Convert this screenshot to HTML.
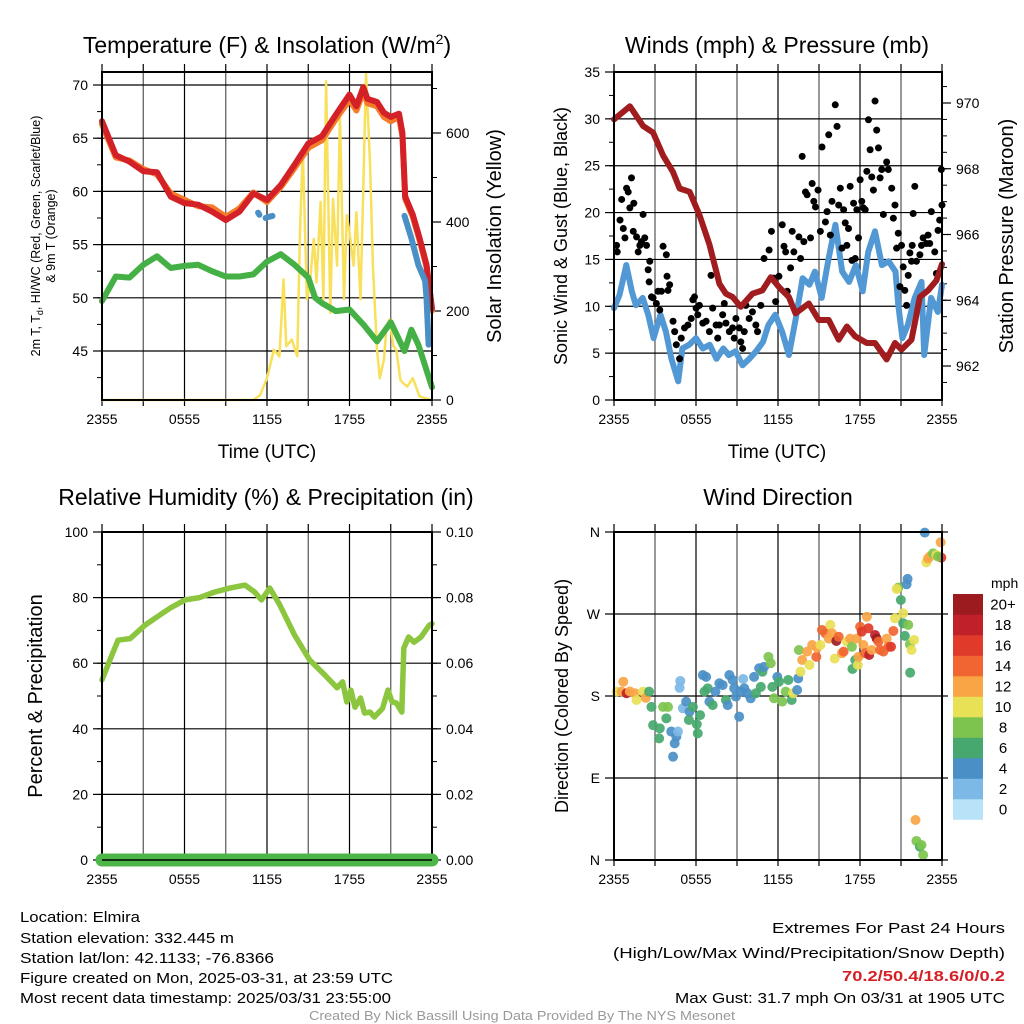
<!DOCTYPE html>
<html><head><meta charset="utf-8"><title>Elmira Mesonet Meteogram</title>
<style>
html,body{margin:0;padding:0;background:#fff;}
svg{display:block;font-family:"Liberation Sans",Arial,sans-serif;}
</style></head>
<body>
<svg id="fig" width="1024" height="1024" viewBox="0 0 1024 1024" xmlns="http://www.w3.org/2000/svg">
<rect x="0" y="0" width="1024" height="1024" fill="#fff"/>
<g id="p1"></g>
<g id="p2"></g>
<g id="p3"></g>
<g id="p4"></g>
<g font-size="23" fill="#000" text-anchor="middle">
<text x="267" y="53">Temperature (F) &amp; Insolation (W/m<tspan dy="-9" font-size="14">2</tspan><tspan dy="9">)</tspan></text>
<text x="777" y="53">Winds (mph) &amp; Pressure (mb)</text>
<text x="266" y="505">Relative Humidity (%) &amp; Precipitation (in)</text>
<text x="778" y="505">Wind Direction</text>
</g>
<g fill="#000" text-anchor="middle">
<text x="267" y="458" font-size="19">Time (UTC)</text>
<text x="777" y="458" font-size="19">Time (UTC)</text>
<text font-size="12.5" transform="translate(40,236) rotate(-90)">2m T, T<tspan font-size="9" dy="3">d</tspan><tspan dy="-3">, HI/WC (Red, Green, Scarlet/Blue)</tspan></text>
<text font-size="12.5" transform="translate(55,236) rotate(-90)">&amp; 9m T (Orange)</text>
<text font-size="20" transform="translate(501,236) rotate(-90)">Solar Insolation (Yellow)</text>
<text font-size="18" transform="translate(567,236) rotate(-90)">Sonic Wind &amp; Gust (Blue, Black)</text>
<text font-size="20" transform="translate(1013,236) rotate(-90)">Station Pressure (Maroon)</text>
<text font-size="20" transform="translate(42,696) rotate(-90)">Percent &amp; Precipitation</text>
<text font-size="18" transform="translate(568,696) rotate(-90)">Direction (Colored By Speed)</text>
</g>
<g font-size="15" fill="#000">
<text x="20" y="922" textLength="120" lengthAdjust="spacingAndGlyphs">Location: Elmira</text>
<text x="20" y="943" textLength="214" lengthAdjust="spacingAndGlyphs">Station elevation: 332.445 m</text>
<text x="20" y="963" textLength="254" lengthAdjust="spacingAndGlyphs">Station lat/lon: 42.1133; -76.8366</text>
<text x="20" y="983" textLength="373" lengthAdjust="spacingAndGlyphs">Figure created on Mon, 2025-03-31, at 23:59 UTC</text>
<text x="20" y="1003" textLength="371" lengthAdjust="spacingAndGlyphs">Most recent data timestamp: 2025/03/31 23:55:00</text>
</g>
<g font-size="15" fill="#000" text-anchor="end">
<text x="1005" y="933" textLength="233" lengthAdjust="spacingAndGlyphs">Extremes For Past 24 Hours</text>
<text x="1005" y="958" textLength="392" lengthAdjust="spacingAndGlyphs">(High/Low/Max Wind/Precipitation/Snow Depth)</text>
<text x="1005" y="981" fill="#d42027" font-weight="bold" textLength="163" lengthAdjust="spacingAndGlyphs">70.2/50.4/18.6/0/0.2</text>
<text x="1005" y="1003" textLength="330" lengthAdjust="spacingAndGlyphs">Max Gust: 31.7 mph On 03/31 at 1905 UTC</text>
</g>
<text x="522" y="1020" font-size="12.5" fill="#999" text-anchor="middle" textLength="426" lengthAdjust="spacingAndGlyphs">Created By Nick Bassill Using Data Provided By The NYS Mesonet</text>
</svg>
<script>
// ---------- data ----------
const xTickLabels = ["2355","0555","1155","1755","2355"];
const tempTicks = [45,50,55,60,65,70];
const solarTicks = [0,200,400,600];
const windTicks = [0,5,10,15,20,25,30,35];
const presTicks = [962,964,966,968,970];
const rhTicks = [0,20,40,60,80,100];
const precipTicks = ["0.00","0.02","0.04","0.06","0.08","0.10"];
const dirTicks = ["N","E","S","W","N"];

const tempHours = [0,1,2,3,4,5,6,7,8,9,10,11,12,13,14,15,16,17,18,18.5,19,19.3,20,20.5,21,21.6,21.85,22.05,22.6,23.1,23.6,24];
const tempRed = [66.6,63.4,62.8,61.9,61.8,59.5,58.9,58.75,58.1,57.3,58.1,59.8,59.2,60.6,62.5,64.5,65.2,67.2,69.1,68.0,69.8,68.7,68.4,67.4,67.0,67.3,65.5,59.5,57.8,55.6,53.1,49.0];
const tempOrange = [66.3,63.2,62.9,62.1,61.6,59.8,59.2,58.6,58.5,57.6,58.4,59.9,59.0,60.4,62.2,64.1,64.8,66.8,68.6,67.6,69.4,68.3,68.0,67.0,66.6,67.0,65.2,59.3,57.6,55.4,52.9,48.8];
const dewHours = [0,1,2,3,4,5,6,7,8,9,10,11,12,13,14,15,15.5,16,17,18,19,20,21,22,22.5,23,24];
const dewVals = [49.7,52.0,51.9,53.1,53.9,52.8,53.0,53.1,52.5,52.0,52.0,52.2,53.4,54.1,53.1,51.9,50.0,49.5,48.75,48.9,47.5,45.9,47.7,45.0,47.0,45.6,41.6];
const hiwcHoursA = [11.35,11.45];
const hiwcValsA = [58.0,57.8];
const hiwcHoursB = [11.9,12.1,12.4];
const hiwcValsB = [57.5,57.6,57.7];
const hiwcHoursC = [22.0,22.5,23.0,23.5,23.6,23.75];
const hiwcValsC = [57.7,55.6,53.1,51.6,50.0,45.6];
const solarHours = [0,11,11.5,12.0,12.5,12.9,13.2,13.4,13.8,14.2,14.4,14.6,14.9,15.1,15.4,15.6,15.9,16.1,16.3,16.6,16.8,17.1,17.3,17.6,17.8,18.0,18.3,18.5,18.8,19.0,19.2,19.5,19.7,20.0,20.2,20.5,20.7,20.9,21.2,21.4,21.7,21.9,22.2,22.6,23.1,23.9,24];
const solarVals = [0,0,11,49,113,98,271,121,136,98,377,565,226,256,362,264,445,226,716,196,452,302,641,226,415,377,302,422,226,475,735,528,302,113,49,90,166,181,121,113,45,38,30,49,8,0,0];

const windHours = [0,0.4,0.9,1.3,1.6,2.1,2.5,2.9,3.4,3.8,4.2,4.7,5.0,5.5,6.0,6.5,7.0,7.5,8.0,8.4,8.9,9.4,9.9,10.4,10.9,11.3,11.8,12.3,12.8,13.3,13.8,14.3,14.7,15.2,15.7,16.2,16.7,17.2,17.7,18.2,18.6,19.1,19.6,20.1,20.6,20.8,21.1,21.5,22.0,22.5,22.7,23.2,23.7,24];
const windVals = [9.8,11.2,14.4,11.6,10.1,10.9,9.1,6.6,9.1,7.3,4.4,2.0,5.5,5.9,6.6,5.5,5.9,4.4,5.5,4.8,5.2,3.7,4.4,5.2,6.2,8.0,9.1,7.3,4.8,8.7,13.0,12.3,13.7,10.9,15.1,18.7,13.7,12.6,14.4,11.6,15.8,18.0,14.4,14.8,13.7,10.1,6.6,8.0,10.9,12.6,4.8,10.9,9.4,12.3];
const gustHours = [0.19,0.24,0.44,0.56,0.68,0.8,0.92,1.04,1.16,1.28,1.41,1.45,1.65,1.77,1.89,2.01,2.13,2.25,2.38,2.5,2.57,2.62,2.74,2.86,3.1,3.22,3.35,3.47,3.59,3.83,3.88,3.95,4.07,4.32,4.44,4.56,4.8,4.92,5.16,5.41,5.65,5.77,5.89,6.01,6.13,6.25,6.5,6.74,6.98,7.1,7.22,7.47,7.59,7.71,7.95,8.07,8.19,8.44,8.68,8.8,8.92,9.16,9.28,9.41,9.53,9.65,9.89,10.13,10.38,10.5,10.74,10.98,11.35,11.52,11.71,11.83,12.07,12.31,12.44,12.56,12.68,12.92,13.04,13.16,13.53,13.65,13.77,13.89,14.01,14.13,14.38,14.5,14.62,14.74,14.93,15.1,15.22,15.47,15.59,15.71,15.83,15.95,16.19,16.32,16.44,16.56,16.68,16.8,16.92,17.04,17.16,17.28,17.41,17.53,17.65,17.77,17.89,18.01,18.13,18.25,18.38,18.5,18.62,18.74,18.86,18.98,19.1,19.22,19.35,19.47,19.59,19.71,19.95,20.07,20.32,20.44,20.56,20.68,20.8,20.92,21.04,21.16,21.28,21.41,21.53,21.65,21.77,21.82,21.89,22.01,22.13,22.38,22.5,22.62,22.86,22.98,23.1,23.22,23.47,23.59,23.71,23.83,23.95,24.0];
const gustVals = [16.5,15.8,19.2,21.4,18.3,17.3,22.6,22.2,20.5,23.7,18.0,21.0,17.4,15.8,16.5,16.9,19.8,17.3,16.5,13.9,12.6,14.8,11.0,10.9,10.3,11.6,9.6,11.6,16.4,15.5,13.2,11.7,12.3,8.4,7.3,5.9,4.4,6.6,7.7,8.0,8.7,10.7,11.0,9.8,9.1,10.1,8.2,8.4,7.3,13.3,9.8,8.0,6.6,8.0,9.1,10.3,8.2,7.3,7.7,6.6,8.7,7.7,6.2,5.5,7.3,10.1,8.7,9.4,8.0,7.3,10.1,15.1,16.0,18.0,13.0,10.5,13.2,18.7,16.4,15.8,11.6,14.1,18.0,15.8,17.4,15.1,26.0,16.9,22.2,21.9,17.3,23.1,21.2,20.6,22.4,18.0,27.0,19.0,20.1,28.3,17.6,21.2,31.5,29.2,20.8,22.6,16.2,20.3,18.9,16.5,18.3,22.8,14.9,21.0,15.1,20.3,17.3,23.5,21.2,20.5,20.3,24.4,29.9,26.7,23.8,22.4,31.9,28.8,26.9,23.7,24.6,19.8,25.4,24.6,22.6,19.4,20.8,16.2,17.8,12.1,16.5,14.2,11.7,10.1,13.3,15.7,14.8,16.5,19.9,22.8,14.8,15.5,16.5,17.3,16.7,17.6,16.7,20.1,15.8,13.5,18.1,19.2,24.6,20.8];
const presHours = [0,1.16,2.13,2.86,3.59,4.32,4.8,5.53,6.25,6.98,7.71,8.19,8.68,9.28,10.13,10.86,11.47,12.07,12.8,13.28,14.25,14.98,15.71,16.44,17.04,17.65,18.5,19.1,19.95,20.56,21.04,21.77,22.38,22.98,23.59,24];
const presVals = [969.5,969.9,969.3,969.1,968.4,967.9,967.4,967.3,966.6,965.7,964.5,964.2,964.1,963.8,964.2,964.3,964.7,964.4,964.1,963.6,963.9,963.4,963.4,962.8,963.2,962.9,962.7,962.7,962.2,962.7,962.5,962.8,964.1,964.3,964.6,965.1];

const rhHours = [0,0.58,1.16,2.04,3.13,4.2,4.95,6.04,7.1,8.2,9.3,10.4,11.1,11.6,12.2,12.9,14.0,15.1,16.2,17.1,17.5,17.8,18.1,18.4,18.8,19.1,19.5,19.8,20.4,20.8,21.1,21.4,21.8,21.95,22.3,22.7,23.2,23.8,24];
const rhVals = [54.9,61,67,67.5,71.6,74.7,76.8,79.3,80,81.7,82.9,83.8,81.7,79.3,82.9,78,68.6,61,56.4,52.5,54.3,48.2,51.8,46.6,49.4,44.8,45.1,43.6,46.2,51.8,48.2,47.9,45.1,64.6,68,66.4,68,71.6,72];
const precipHours = [0,24];
const precipVals = [0,0];

const dirHours = [0.2,0.68,0.56,0.92,1.16,1.53,1.65,2.13,2.33,2.57,2.74,2.86,3.35,3.3,3.59,3.95,3.83,4.19,4.56,4.44,4.32,4.68,4.85,4.8,5.04,5.28,5.53,5.48,5.77,6.06,6.13,6.3,6.5,6.74,6.62,6.86,6.98,7.22,7.42,7.71,7.95,8.19,8.32,8.44,8.68,8.8,8.92,9.16,9.28,9.45,9.53,9.77,10.0,10.25,10.38,10.62,10.86,10.98,11.3,11.47,10.74,11.59,11.71,11.95,12.07,12.31,12.56,12.75,13.0,13.1,13.4,13.48,13.65,13.53,13.77,14.13,14.3,14.5,14.8,14.86,15.1,15.22,15.47,15.71,15.83,15.95,16.27,16.44,16.15,16.68,16.8,17.04,17.28,17.41,17.45,17.65,17.77,17.84,17.89,18.01,18.13,18.25,18.38,18.5,18.62,18.67,18.86,19.1,19.22,19.35,19.47,19.71,19.95,20.07,20.27,20.44,20.56,20.8,20.68,20.99,21.16,21.28,21.16,21.41,21.48,21.53,21.65,21.77,21.96,21.67,22.06,22.13,22.38,22.5,22.62,22.74,22.86,22.98,23.1,23.35,23.59,23.9,23.95,23.71];
const dirDeg = [184.8,195.7,184.8,183,185,183,175.6,184.8,178,184.8,168,148,144.5,133.5,168,168,155.5,141,135.4,128,113.4,141,196.5,189,166.5,173.8,162.8,153.7,168,149,139,159,203,201,184.8,188.4,173.8,170,184.8,194,192,175.6,170,203,197.6,188.4,179.3,157.3,184.8,198.7,188.4,183,177.5,201,183,210.4,206.7,212,223,216,190,190,177.5,201,195.7,173.8,184.8,197.6,175.6,183,186.6,199.4,206.7,230.5,219.5,228.7,214,236,223,233,236,252.5,248.8,243,258,248.8,240.4,245,221,227,228.7,239.7,243,234,209.7,219.5,243,214,223,256,250.6,236,227,267,254.3,225,230.5,247,243,239.7,230.5,228.7,243,234,234,251.4,265.3,299,297.5,285.4,259.8,246,270.8,302.6,308.5,258,236.7,230.5,241.5,205.6,43.9,20.9,14.6,16.5,5.5,359.3,326.7,331,333,336.6,334.8,348.7,331.9,333];
const dirSpeed = [10,12,12,18,12,12,10,10,12,6,6,6,6,6,8,8,6,4,4,4,4,2,2,2,2,4,4,6,6,6,6,6,4,4,6,6,4,6,4,4,4,6,4,4,4,4,4,4,4,2,4,4,4,4,6,4,6,4,8,8,6,6,8,4,6,8,8,6,6,10,4,4,10,8,12,12,10,12,14,12,10,14,14,12,10,12,20,14,10,12,14,10,12,8,6,6,12,10,12,14,16,12,14,12,16,18,12,18,20,14,14,14,12,14,16,14,10,8,10,6,6,6,10,4,4,8,8,10,10,6,12,8,6,8,8,4,10,12,12,8,10,12,16,8];
const speedLabels = ["0","2","4","6","8","10","12","14","16","18","20+"];
const speedColors = ["#b8e2f7","#7db9e6","#4a8fc6","#46a86e","#7dc44e","#e8e055","#f9a545","#f06530","#e03a2a","#c0202a","#9b1b1e"];

// ---------- helpers ----------
const NS = "http://www.w3.org/2000/svg";
function mk(parent, tag, attrs){const e=document.createElementNS(NS,tag);for(const k in attrs)e.setAttribute(k,attrs[k]);parent.appendChild(e);return e;}
function linScale(d0,d1,r0,r1){return v=>r0+(v-d0)/(d1-d0)*(r1-r0);}

function frame(g, X0, X1, Y0, Y1, hGridVals, yS, name){
  const xs = linScale(0,24,X0,X1);
  for(let h=3;h<24;h+=3){
    const l=mk(g,'line',{x1:xs(h),x2:xs(h),y1:Y0,y2:Y1,stroke:(h%6===0)?'#000':'#555','stroke-width':1.2});
    
    
  }
  hGridVals.forEach(v=>{
    const y=yS(v);
    const l=mk(g,'line',{x1:X0,x2:X1,y1:y,y2:y,stroke:'#000','stroke-width':1.2});
    
    
  });
  for(let h=0;h<=24;h+=3){
    const x=xs(h);
    const a=mk(g,'line',{x1:x,x2:x,y1:Y1,y2:Y1+6,stroke:'#000','stroke-width':1.2});
    
    
    const b=mk(g,'line',{x1:x,x2:x,y1:Y0,y2:Y0-8,stroke:'#000','stroke-width':1.2});
    
    
  }
  xTickLabels.forEach((t,i)=>{
    const tx=mk(g,'text',{x:xs(i*6),y:Y1+24,'font-size':14,'text-anchor':'middle',fill:'#000'});
    tx.textContent=t;
    
    
  });
  return xs;
}
function box(g,X0,X1,Y0,Y1,name){
  const r=mk(g,'rect',{x:X0,y:Y0,width:X1-X0,height:Y1-Y0,fill:'none',stroke:'#000','stroke-width':2});
  
  
}
function yTicks(g, side, X, vals, labels, yS, name, minorStep, dmin, dmax){
  const dir = side==='left'?-1:1;
  vals.forEach((v,i)=>{
    const y=yS(v);
    const l=mk(g,'line',{x1:X,x2:X+dir*9,y1:y,y2:y,stroke:'#000','stroke-width':1.2});
    
    
    const t=mk(g,'text',{x:X+dir*14,y:y+5,'font-size':14,'text-anchor':side==='left'?'end':'start',fill:'#000'});
    t.textContent=labels[i];
    
    
  });
  if(minorStep){
    for(let v=dmin; v<=dmax+1e-9; v+=minorStep){
      const y=yS(v);
      const l=mk(g,'line',{x1:X,x2:X+dir*5,y1:y,y2:y,stroke:'#000','stroke-width':1});
      
      
    }
  }
}
function line(g, xs, ys, hours, vals, color, w, name, cap){
  const d=hours.map((h,i)=>(i?'L':'M')+xs(h).toFixed(1)+' '+ys(vals[i]).toFixed(1)).join(' ');
  const p=mk(g,'path',{d:d,fill:'none',stroke:color,'stroke-width':w,'stroke-linejoin':'round','stroke-linecap':cap||'round'});
  
  
  return p;
}

// ---------- panel 1 ----------
(function(){
  const g=document.getElementById('p1');
  const X0=102,X1=432,Y0=72,Y1=400;
  const yT=linScale(70,45,85,351);
  const yS=linScale(0,600,400,133);
  const xs=frame(g,X0,X1,Y0,Y1,tempTicks,yT,'p1');
  yTicks(g,'left',X0,tempTicks,tempTicks.map(String),yT,'p1-y',2.5,42.5,70);
  yTicks(g,'right',X1,solarTicks,solarTicks.map(String),yS,'p1-y2',100,0,700);
  line(g,xs,yS,solarHours,solarVals,'#f9e05a',2.5,'solar-insolation-line');
  line(g,xs,yT,dewHours,dewVals,'#45b045',6,'dewpoint-line');
  line(g,xs,yT,tempHours,tempOrange,'#f47b2a',6,'temp-9m-line');
  line(g,xs,yT,tempHours,tempRed,'#d42027',6,'temp-2m-line');
  line(g,xs,yT,hiwcHoursA,hiwcValsA,'#4a8fc6',6,'heat-index-windchill-a');
  line(g,xs,yT,hiwcHoursB,hiwcValsB,'#4a8fc6',6,'heat-index-windchill-b');
  line(g,xs,yT,hiwcHoursC,hiwcValsC,'#4a8fc6',6,'heat-index-windchill-c');
  box(g,X0,X1,Y0,Y1,'p1');
})();

// ---------- panel 2 ----------
(function(){
  const g=document.getElementById('p2');
  const X0=614,X1=942,Y0=72,Y1=400;
  const yW=linScale(0,35,400,72);
  const yP=linScale(970,962,103,366);
  const xs=frame(g,X0,X1,Y0,Y1,windTicks.slice(1),yW,'p2');
  yTicks(g,'left',X0,windTicks,windTicks.map(String),yW,'p2-y',2.5,0,35);
  yTicks(g,'right',X1,presTicks,presTicks.map(String),yP,'p2-y2',0.5,961.5,970.9);
  line(g,xs,yW,windHours,windVals,'#5198d4',6,'sonic-wind-line');
  gustHours.forEach((h,i)=>{
    const c=mk(g,'circle',{cx:xs(h),cy:yW(gustVals[i]),r:3.5,fill:'#000'});
    
    
  });
  line(g,xs,yP,presHours,presVals,'#a01c1f',6,'pressure-line');
  box(g,X0,X1,Y0,Y1,'p2');
})();

// ---------- panel 3 ----------
(function(){
  const g=document.getElementById('p3');
  const X0=102,X1=432,Y0=532,Y1=860;
  const yR=linScale(0,100,860,532);
  const yPr=linScale(0,0.1,860,532);
  const xs=frame(g,X0,X1,Y0,Y1,[20,40,60,80],yR,'p3');
  yTicks(g,'left',X0,rhTicks,rhTicks.map(String),yR,'p3-y',10,0,100);
  yTicks(g,'right',X1,precipTicks.map(Number),precipTicks,yPr,'p3-y2',0.01,0,0.1);
  line(g,xs,yR,rhHours,rhVals,'#8cc63f',5.5,'relative-humidity-line');
  box(g,X0,X1,Y0,Y1,'p3');
  line(g,xs,yPr,precipHours,precipVals,'#4cb748',13,'precipitation-line');
  const base=mk(g,'line',{x1:X0,x2:X1,y1:Y1,y2:Y1,stroke:'#000','stroke-width':1.5});
  
  
})();

// ---------- panel 4 ----------
(function(){
  const g=document.getElementById('p4');
  const X0=614,X1=942,Y0=532,Y1=860;
  const yD=linScale(0,360,860,532);
  const xs=frame(g,X0,X1,Y0,Y1,[90,180,270],yD,'p4');
  yTicks(g,'left',X0,[0,90,180,270,360],dirTicks,yD,'p4-y',0,0,0);
  [0,90,180,270,360].forEach(v=>{
    const l=mk(g,'line',{x1:X1,x2:X1+6,y1:yD(v),y2:yD(v),stroke:'#000','stroke-width':1.2});
    
    
  });
  dirHours.forEach((h,i)=>{
    const idx=Math.min(10,Math.round(dirSpeed[i]/2));
    const c=mk(g,'circle',{cx:xs(h),cy:yD(dirDeg[i]),r:5,fill:speedColors[idx],'fill-opacity':0.92});
    
    
  });
  box(g,X0,X1,Y0,Y1,'p4');
  const cb=mk(g,'g',{});
  
  
  const t=mk(cb,'text',{x:991,y:588,'font-size':14,'text-anchor':'start',fill:'#000'});
  t.textContent='mph';
  
  
  const top=594, hB=20.5;
  speedLabels.forEach((lab,i)=>{
    const j=10-i;
    const r=mk(cb,'rect',{x:953,y:top+j*hB,width:30,height:hB+0.3,fill:speedColors[i]});
    
    
    const tx=mk(cb,'text',{x:1003,y:top+j*hB+hB/2+5,'font-size':15,'text-anchor':'middle',fill:'#000'});
    tx.textContent=lab;
    
    
  });
})();
</script>
</body></html>
